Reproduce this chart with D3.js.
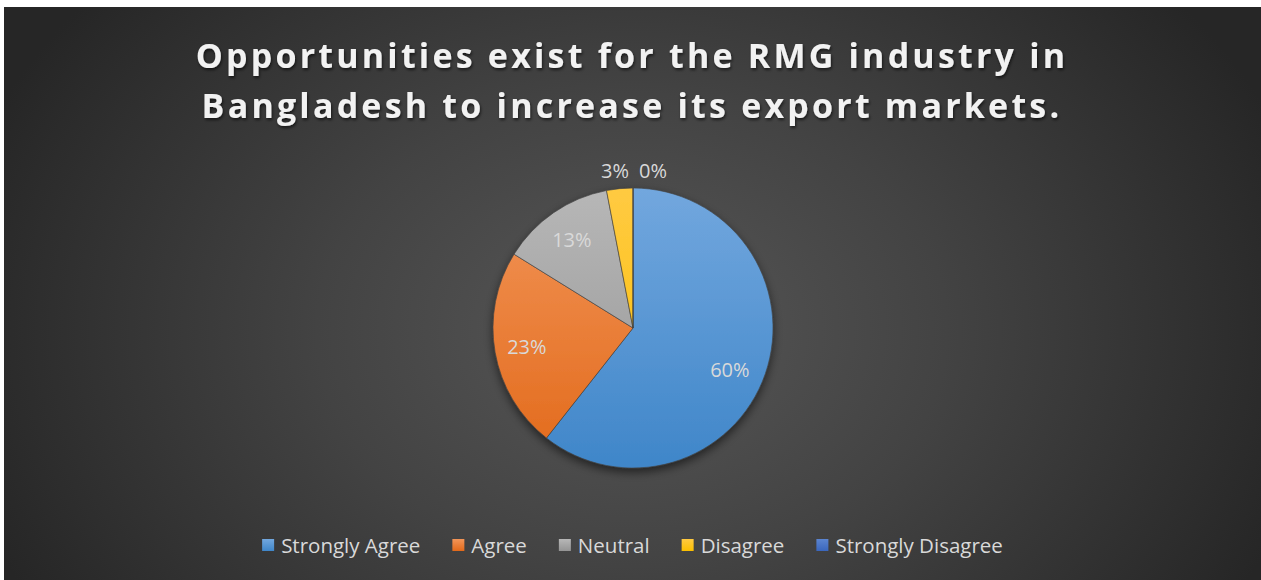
<!DOCTYPE html>
<html>
<head>
<meta charset="utf-8">
<script src="https://cdn.jsdelivr.net/npm/d3@7"></script>
<style>
  html, body { margin: 0; padding: 0; background: #ffffff; }
  svg { display: block; }
</style>
</head>
<body>
<svg id="chart" width="1261" height="580"></svg>
<script>
// Survey responses (percent of respondents)
const categories = ["Strongly Agree", "Agree", "Neutral", "Disagree", "Strongly Disagree"];
const values = [60, 23, 13, 3, 0];
const labels = ["60%", "23%", "13%", "3%", "0%"];
const titleLines = ["Opportunities exist for the RMG industry in", "Bangladesh to increase its export markets."];

// top / bottom gradient colours per slice
const sliceTop = ["#72a7de", "#f29558", "#b7b7b7", "#ffca42", "#5b84d0"];
const sliceBottom = ["#3f86c9", "#e2691a", "#949494", "#fbbf00", "#3a66bd"];

const W = 1261, H = 580;
const svg = d3.select("#chart");
const defs = svg.append("defs");

// panel background: radial glow centred on the pie
const bg = defs.append("radialGradient").attr("id", "bg")
  .attr("gradientUnits", "userSpaceOnUse")
  .attr("cx", 632).attr("cy", 330).attr("r", 700)
  .attr("gradientTransform", "translate(632,330) scale(1,0.75) translate(-632,-330)");
bg.append("stop").attr("offset", "0%").attr("stop-color", "#575757");
bg.append("stop").attr("offset", "45%").attr("stop-color", "#434343");
bg.append("stop").attr("offset", "100%").attr("stop-color", "#262626");

svg.append("rect").attr("x", 4).attr("y", 7).attr("width", W - 4).attr("height", H - 7)
  .attr("fill", "url(#bg)");

// soft shadows
const sh = defs.append("filter").attr("id", "pieShadow")
  .attr("x", "-20%").attr("y", "-20%").attr("width", "140%").attr("height", "150%");
sh.append("feDropShadow").attr("dx", 0).attr("dy", 4).attr("stdDeviation", 5)
  .attr("flood-color", "#000").attr("flood-opacity", 0.55);

const tsh = defs.append("filter").attr("id", "textShadow")
  .attr("x", "-10%").attr("y", "-30%").attr("width", "120%").attr("height", "160%");
tsh.append("feDropShadow").attr("dx", 1).attr("dy", 2).attr("stdDeviation", 1.5)
  .attr("flood-color", "#000").attr("flood-opacity", 0.6);

// title
const title = svg.append("g").attr("filter", "url(#textShadow)");
title.selectAll("text").data(titleLines).join("text")
  .attr("x", 632)
  .attr("y", (d, i) => 68 + i * 50)
  .attr("text-anchor", "middle")
  .attr("font-family", "'Open Sans', sans-serif")
  .attr("font-weight", 700)
  .attr("font-size", 34)
  .attr("letter-spacing", 3.2)
  .attr("fill", "#f2f2f2")
  .text(d => d);

// pie
const cx = 633, cy = 328, R = 140;
const color = d3.scaleOrdinal().domain(categories).range(d3.range(categories.length));

categories.forEach((c, i) => {
  const g = defs.append("linearGradient").attr("id", "slice" + i)
    .attr("gradientUnits", "userSpaceOnUse")
    .attr("x1", 0).attr("y1", -R).attr("x2", 0).attr("y2", R);
  g.append("stop").attr("offset", "0%").attr("stop-color", sliceTop[i]);
  g.append("stop").attr("offset", "100%").attr("stop-color", sliceBottom[i]);
});

const pie = d3.pie().sort(null).value(d => d.value);
const arcs = pie(categories.map((c, i) => ({ cat: c, value: values[i], label: labels[i] })));
const arc = d3.arc().innerRadius(0).outerRadius(R);

const pg = svg.append("g").attr("transform", `translate(${cx},${cy})`);
pg.append("g").attr("filter", "url(#pieShadow)")
  .selectAll("path").data(arcs).join("path")
  .attr("d", arc)
  .attr("fill", d => `url(#slice${color(d.data.cat)})`)
  .attr("stroke", "#404040")
  .attr("stroke-width", 0.6);

// data labels: inside for large slices, outside for the thin ones
const inner = d3.arc().innerRadius(R * 0.77).outerRadius(R * 0.77);
pg.selectAll("text.lbl").data(arcs).join("text")
  .attr("class", "lbl")
  .each(function (d) {
    const small = d.endAngle - d.startAngle < 0.3;
    let [x, y] = inner.centroid(d);
    if (small) {
      // keep adjacent small labels on one line above the top of the pie
      y = -R - 18;
      x = d.value === 0 ? 20 : -18;
    } else if (d.index === 0) {
      y += 6;
      x -= 5;
    }
    d3.select(this).attr("x", x).attr("y", y);
  })
  .attr("text-anchor", "middle")
  .attr("dominant-baseline", "central")
  .attr("font-family", "'Open Sans', sans-serif")
  .attr("font-size", 20)
  .attr("fill", "#d9d9d9")
  .text(d => d.data.label);

// legend
categories.forEach((c, i) => {
  const g = defs.append("linearGradient").attr("id", "leg" + i)
    .attr("x1", 0).attr("y1", 0).attr("x2", 0).attr("y2", 1);
  g.append("stop").attr("offset", "0%").attr("stop-color", sliceTop[i]);
  g.append("stop").attr("offset", "100%").attr("stop-color", sliceBottom[i]);
});
const lg = svg.append("g");
const items = lg.selectAll("g").data(categories).join("g");
items.append("rect").attr("width", 12).attr("height", 12).attr("y", -6)
  .attr("fill", (d, i) => `url(#leg${i})`);
items.append("text").attr("x", 19).attr("y", 0)
  .attr("dominant-baseline", "central")
  .attr("font-family", "'Open Sans', sans-serif")
  .attr("font-size", 20.5)
  .attr("fill", "#d9d9d9")
  .text(d => d);

let xPos = 0;
const gap = 32;
items.each(function () {
  const w = this.querySelector("text").getComputedTextLength() + 19;
  d3.select(this).attr("transform", `translate(${xPos},0)`);
  xPos += w + gap;
});
const total = xPos - gap;
lg.attr("transform", `translate(${(W + 4 - total) / 2},545)`);
</script>
</body>
</html>
